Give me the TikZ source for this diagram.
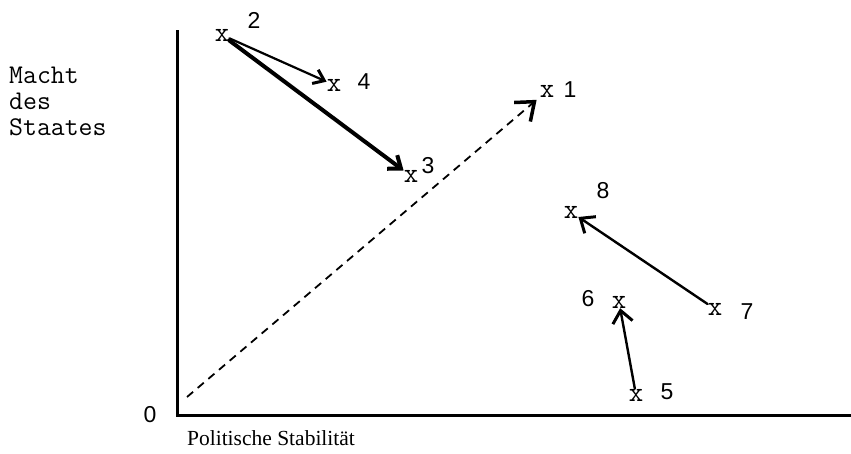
\documentclass[tikz,border=0pt]{standalone}
\usepackage{fontspec}
\setmainfont{Liberation Serif}
\newfontfamily\sansfam{Liberation Sans}
\usetikzlibrary{arrows.meta}
\begin{document}
\begin{tikzpicture}[x=1pt,y=-1pt,
  ptmark/.style={inner sep=0pt, font=\ttfamily\fontsize{28}{28}\selectfont},
  numlbl/.style={inner sep=0pt, font=\sansfam\fontsize{23}{23}\selectfont},
  axislbl/.style={inner sep=0pt, font=\ttfamily\fontsize{27}{27}\selectfont},
  axisline/.style={line width=3pt},
  move/.style={line width=2.4pt, line cap=round, -{Straight Barb[length=12pt,width=20pt,line width=3pt]}},
  smallmove/.style={line width=2.2pt, line cap=round, -{Straight Barb[length=10pt,width=15pt,line width=3pt]}},
  bigmove/.style={line width=4pt, line cap=round, -{Straight Barb[length=11pt,width=17pt]}},
  diag/.style={line width=1.8pt, dash pattern=on 8pt off 6pt, -{Straight Barb[length=16pt,width=25pt,line width=3.5pt]}}
]
\useasboundingbox (0,0) rectangle (851,453);

% axes
\coordinate (ytop) at (177,30);
\coordinate (orig) at (177,415);
\coordinate (xend) at (851,415);
\draw[axisline] (ytop) -- (orig) -- (xend);

\node[numlbl] (zero) at (150,415) {0};
\node[axislbl, anchor=base west] (ylab1) at (9,83) {Macht};
\node[axislbl, anchor=base west] (ylab2) at (9,109) {des};
\node[axislbl, anchor=base west] (ylab3) at (9,135) {Staates};
\node[inner sep=0pt, font=\fontsize{21.5}{21.5}\selectfont] (xlab) at (271,438) {Politische Stabilität};

% points
\node[ptmark] (p1) at (547,91) {x};
\node[ptmark] (p2) at (222,35) {x};
\node[ptmark] (p3) at (411,176) {x};
\node[ptmark] (p4) at (334,85) {x};
\node[ptmark] (p5) at (636,395) {x};
\node[ptmark] (p6) at (619,302) {x};
\node[ptmark] (p7) at (715,309) {x};
\node[ptmark] (p8) at (571,212) {x};

% labels
\node[numlbl] (l1) at (570,90) {1};
\node[numlbl] (l2) at (254,20) {2};
\node[numlbl] (l3) at (428,166) {3};
\node[numlbl] (l4) at (364,82) {4};
\node[numlbl] (l5) at (667,392) {5};
\node[numlbl] (l6) at (588,299) {6};
\node[numlbl] (l7) at (747,312) {7};
\node[numlbl] (l8) at (603,191) {8};

% arrows
\coordinate (dstart) at (187,397);
\draw[diag, shorten >=4pt] (dstart) -- (p1);
\draw[smallmove] (p2) -- (p4);
\draw[bigmove] (p2) -- (p3);
\draw[move] (p7) -- (p8);
\draw[move] (p5) -- (p6);
\end{tikzpicture}
\end{document}
